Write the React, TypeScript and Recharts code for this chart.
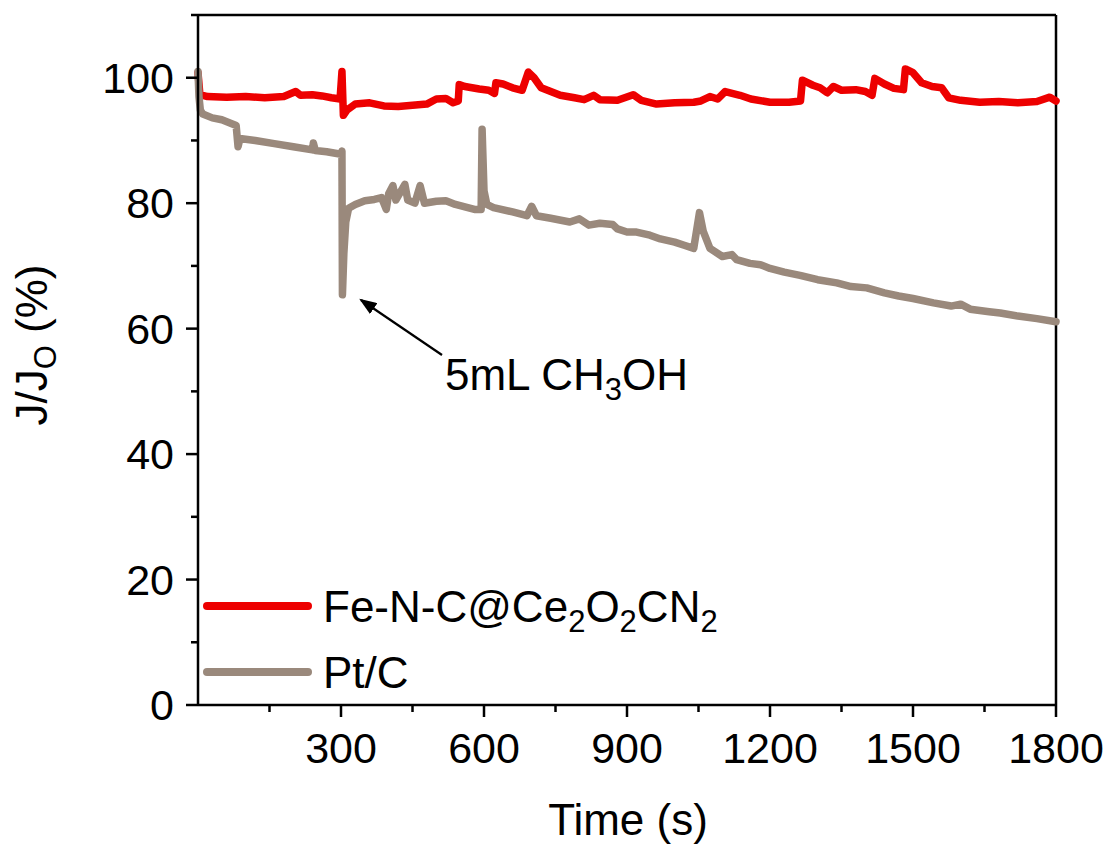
import { LineChart, Line, XAxis, YAxis, ReferenceLine } from "recharts";

const feTime = [
  0, 4, 20, 60, 100, 140, 180, 205, 215, 240, 260, 280, 298, 302, 305, 312, 330, 360, 390, 420, 450,
  480, 500, 520, 535, 546, 548, 560, 590, 610, 622, 625, 640, 660, 680, 693, 705, 720, 740, 760, 790,
  810, 830, 843, 880, 913, 930, 962, 1000, 1040, 1055, 1074, 1090, 1106, 1137, 1160, 1200, 1240, 1264,
  1268, 1290, 1305, 1320, 1333, 1350, 1380, 1400, 1414, 1420, 1440, 1460, 1480, 1484, 1500, 1518, 1540,
  1560, 1575, 1600, 1640, 1680, 1720, 1760, 1787, 1800,
];
const feValue = [
  100.8, 97.3, 97.0, 96.9, 97.0, 96.8, 97.0, 97.8, 97.2, 97.3, 97.1, 96.8, 96.6, 101.0, 94.0, 94.8,
  95.8, 96.0, 95.5, 95.4, 95.6, 95.8, 96.6, 96.7, 96.0, 96.3, 98.9, 98.6, 98.2, 98.0, 97.5, 99.2, 99.0,
  98.4, 98.0, 100.9, 100.0, 98.4, 97.8, 97.2, 96.8, 96.5, 97.2, 96.5, 96.4, 97.3, 96.4, 95.8, 96.0,
  96.1, 96.3, 97.0, 96.6, 97.8, 97.2, 96.6, 96.1, 96.1, 96.3, 99.6, 98.8, 98.4, 97.6, 98.6, 98.0, 98.1,
  97.8, 97.2, 99.9, 99.0, 98.3, 98.1, 101.4, 100.8, 99.2, 98.6, 98.4, 96.8, 96.4, 96.1, 96.2, 96.0,
  96.2, 96.9, 96.3,
];

const ptTime = [
  0, 2, 5, 10, 30, 50, 67, 80, 84, 88, 120, 160, 200, 240, 242, 246, 270, 300, 302, 303, 306, 310, 316,
  330, 350, 370, 385, 395, 400, 409, 415, 434, 440, 455, 466, 475, 500, 520, 540, 560, 580, 594, 596,
  600, 606, 620, 660, 690, 700, 710, 740, 780, 800, 820, 843, 870, 880, 900, 920, 948, 970, 1000, 1020,
  1040, 1052, 1060, 1074, 1100, 1120, 1130, 1158, 1180, 1200, 1230, 1263, 1300, 1340, 1370, 1403, 1440,
  1470, 1500, 1543, 1580, 1600, 1620, 1660, 1683, 1720, 1760, 1800,
];
const ptValue = [
  101.0, 97.0, 94.8, 94.2, 93.6, 93.3, 92.8, 92.4, 89.0, 90.3, 90.0, 89.5, 89.0, 88.5, 89.6, 88.4, 88.2,
  87.8, 88.3, 65.4, 72.0, 77.0, 79.2, 79.8, 80.4, 80.6, 80.9, 79.0, 81.5, 82.8, 80.5, 83.0, 80.5, 80.0,
  82.8, 80.0, 80.3, 80.4, 79.8, 79.4, 79.0, 79.0, 91.8, 82.0, 79.8, 79.3, 78.6, 78.0, 79.5, 78.0, 77.6,
  77.0, 77.5, 76.5, 76.8, 76.6, 75.9, 75.4, 75.4, 74.9, 74.3, 73.8, 73.3, 72.8, 78.5, 75.5, 72.8, 71.5,
  71.8, 71.0, 70.4, 70.2, 69.6, 69.0, 68.5, 67.8, 67.3, 66.7, 66.5, 65.7, 65.2, 64.8, 64.1, 63.6, 63.9,
  63.1, 62.7, 62.5, 62.0, 61.6, 61.1,
];

const xTicks = [150, 300, 450, 600, 750, 900, 1050, 1200, 1350, 1500, 1650, 1800];
const yTicks = [0, 10, 20, 30, 40, 50, 60, 70, 80, 90, 100, 110];

const feData = feTime.map((t, i) => ({ t, v: feValue[i] }));
const ptData = ptTime.map((t, i) => ({ t, v: ptValue[i] }));

const RED = "#ED0000";
const GREY = "#9A897C";
const FONT = "'Liberation Sans', Arial, sans-serif";

function XTick({ x, y, payload }: any) {
  const major = payload.value % 300 === 0;
  return (
    <g>
      <line x1={x} x2={x} y1={y} y2={y + (major ? 12 : 7)} stroke="#000" strokeWidth={2.5} />
      {major && (
        <text x={x} y={y + 58} textAnchor="middle" fontSize={43} fontFamily={FONT} fill="#000">
          {payload.value}
        </text>
      )}
    </g>
  );
}

function YTick({ x, y, payload }: any) {
  const major = payload.value % 20 === 0;
  return (
    <g>
      <line x1={x - (major ? 12 : 7)} x2={x} y1={y} y2={y} stroke="#000" strokeWidth={2.5} />
      {major && (
        <text x={x - 24} y={y} dy={15} textAnchor="end" fontSize={43} fontFamily={FONT} fill="#000">
          {payload.value}
        </text>
      )}
    </g>
  );
}

export default function App() {
  return (
    <div style={{ position: "absolute", left: 0, top: 0, width: 1112, height: 845, background: "#fff" }}>
      <LineChart width={1112} height={845} margin={{ top: 15, right: 56, left: 0, bottom: 40 }}>
        <XAxis
          dataKey="t"
          type="number"
          domain={[0, 1800]}
          ticks={xTicks}
          interval={0}
          height={100}
          tickSize={0}
          tickMargin={0}
          tickLine={false}
          tick={<XTick />}
          axisLine={{ stroke: "#000", strokeWidth: 2.5 }}
        />
        <YAxis
          type="number"
          domain={[0, 110]}
          ticks={yTicks}
          interval={0}
          width={198}
          tickSize={0}
          tickMargin={0}
          tickLine={false}
          tick={<YTick />}
          axisLine={{ stroke: "#000", strokeWidth: 2.5 }}
        />
        <ReferenceLine y={110} stroke="#000" strokeWidth={2.5} />
        <ReferenceLine x={1800} stroke="#000" strokeWidth={2.5} />
        <Line
          data={feData}
          dataKey="v"
          name="Fe-N-C@Ce2O2CN2"
          stroke={RED}
          strokeWidth={7.5}
          dot={false}
          strokeLinejoin="round"
          strokeLinecap="round"
          isAnimationActive={false}
        />
        <Line
          data={ptData}
          dataKey="v"
          name="Pt/C"
          stroke={GREY}
          strokeWidth={7.5}
          dot={false}
          strokeLinejoin="round"
          strokeLinecap="round"
          isAnimationActive={false}
        />
      </LineChart>
      <svg
        width={1112}
        height={845}
        style={{ position: "absolute", left: 0, top: 0, pointerEvents: "none" }}
        fontFamily={FONT}
      >
        <defs>
          <marker id="arrowHead" markerWidth="8" markerHeight="6" refX="7" refY="3" orient="auto" markerUnits="strokeWidth">
            <path d="M0,0 L8,3 L0,6 Z" fill="#000" />
          </marker>
        </defs>
        {/* axis titles */}
        <text transform="translate(47,345) rotate(-90)" textAnchor="middle" fontSize={44} fill="#000">
          J/J<tspan fontSize={31} dy={9}>O</tspan>
          <tspan dy={-9}> (%)</tspan>
        </text>
        <text x={628} y={835} textAnchor="middle" fontSize={44} fill="#000">
          Time (s)
        </text>
        {/* annotation */}
        <line x1={442} y1={355} x2={361} y2={300} stroke="#000" strokeWidth={2.2} markerEnd="url(#arrowHead)" />
        <text x={445} y={390} fontSize={44} fill="#000">
          5mL CH<tspan fontSize={31} dy={10}>3</tspan>
          <tspan dy={-10}>OH</tspan>
        </text>
        {/* legend */}
        <line x1={207} x2={308} y1={606} y2={606} stroke={RED} strokeWidth={8} strokeLinecap="round" />
        <text x={323} y={622} fontSize={44} fill="#000">
          Fe-N-C@Ce<tspan fontSize={31} dy={10}>2</tspan>
          <tspan dy={-10}>O</tspan>
          <tspan fontSize={31} dy={10}>2</tspan>
          <tspan dy={-10}>CN</tspan>
          <tspan fontSize={31} dy={10}>2</tspan>
        </text>
        <line x1={207} x2={308} y1={672} y2={672} stroke={GREY} strokeWidth={8} strokeLinecap="round" />
        <text x={323} y={688} fontSize={44} fill="#000">
          Pt/C
        </text>
      </svg>
    </div>
  );
}
